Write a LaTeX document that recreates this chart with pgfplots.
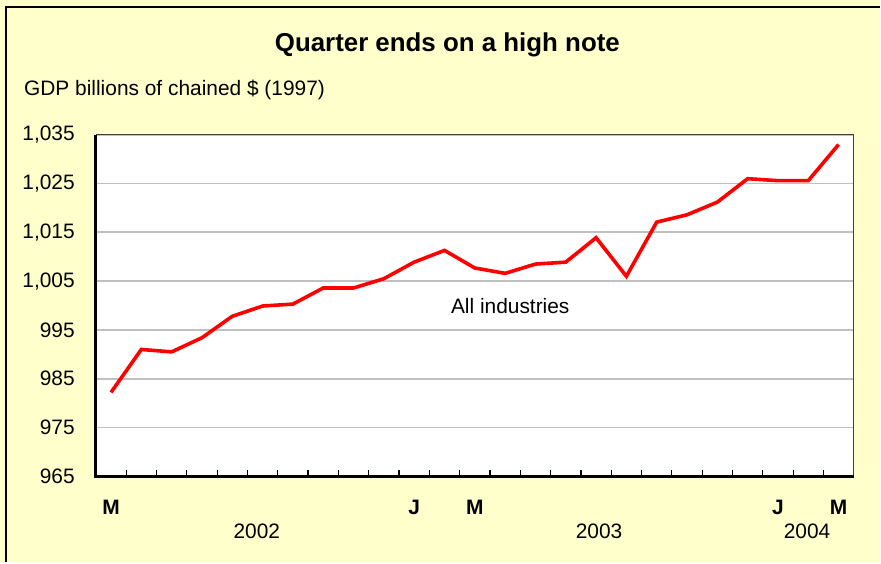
\documentclass[border=0pt]{standalone}
\usepackage{fontspec}
\setmainfont{Liberation Sans}
\usepackage{pgfplots}
\pgfplotsset{compat=1.18}
\usetikzlibrary{backgrounds}
\definecolor{bgyellow}{HTML}{FFFFCC}
\definecolor{gridgray}{HTML}{C0C0C0}
\definecolor{boxgray}{HTML}{404040}

% monthly GDP, March 2002 (0) to March 2004 (24)
\pgfplotstableread{
idx gdp
0  982.2
1  991.0
2  990.5
3  993.4
4  997.8
5  999.9
6  1000.3
7  1003.6
8  1003.6
9  1005.5
10 1008.9
11 1011.3
12 1007.7
13 1006.6
14 1008.5
15 1008.9
16 1013.9
17 1006.0
18 1017.1
19 1018.6
20 1021.2
21 1026.0
22 1025.6
23 1025.6
24 1033.0
}\gdptable

\begin{document}
\begin{tikzpicture}[font=\fontsize{21}{25}\selectfont]
\begin{axis}[
    at={(0,0)}, anchor=south west,
    scale only axis,
    width=759bp, height=342bp,
    xmin=-0.5, xmax=24.5,
    ymin=965, ymax=1035,
    ytick={965,975,...,1035},
    xtick={0.5,1.5,...,23.5},
    xticklabels={},
    tick align=inside,
    major tick length=6bp,
    xtick style={black, line width=1.2bp},
    ytick style={draw=none},
    ymajorgrids,
    grid style={gridgray, line width=1.8bp},
    axis x line*=bottom,
    axis y line*=left,
    axis line style={black, line width=2.8bp, -},
    axis background/.style={fill=white},
    yticklabel style={anchor=east, inner sep=0pt, xshift=-21bp},
    /pgf/number format/.cd, 1000 sep={,}, assume math mode=true,
    /pgfplots/.cd,
    extra x ticks={0,10,12,22,24},
    extra x tick labels={M,J,M,J,M},
    extra x tick style={major tick length=0pt,
        xticklabel style={font=\fontsize{21}{25}\selectfont\bfseries,
            anchor=center, inner sep=0pt, yshift=-31bp}},
    clip=false,
]
\addplot[red, line width=3.6bp, no marks] table[x=idx, y=gdp] {\gdptable};
\draw[boxgray, line width=1.4bp] (rel axis cs:0,1) -- (rel axis cs:1,1) -- (rel axis cs:1,0);
\draw[black, line width=2.8bp] (rel axis cs:0,1) -- (rel axis cs:0,0) -- (rel axis cs:1,0);
\node at (axis cs:13.17,999.8) {All industries};
\node at (axis cs:4.81,965) [yshift=-55bp] {2002};
\node at (axis cs:16.1,965) [yshift=-55bp] {2003};
\node at (axis cs:22.96,965) [yshift=-55bp] {2004};
\end{axis}
\node[font=\fontsize{26}{30}\selectfont\bfseries] at (352bp,432bp) {Quarter ends on a high note};
\node[anchor=west, inner sep=0pt] at (-72bp,387bp) {GDP billions of chained \$ (1997)};
\begin{scope}[on background layer]
\fill[bgyellow] (-96bp,-86bp) rectangle (785bp,477bp);
\draw[black, line width=2.6bp] (-90bp,-86bp) -- (-90bp,470bp) -- (785bp,470bp);
\end{scope}
\useasboundingbox (-96bp,-86bp) rectangle (785bp,477bp);
\end{tikzpicture}
\end{document}
